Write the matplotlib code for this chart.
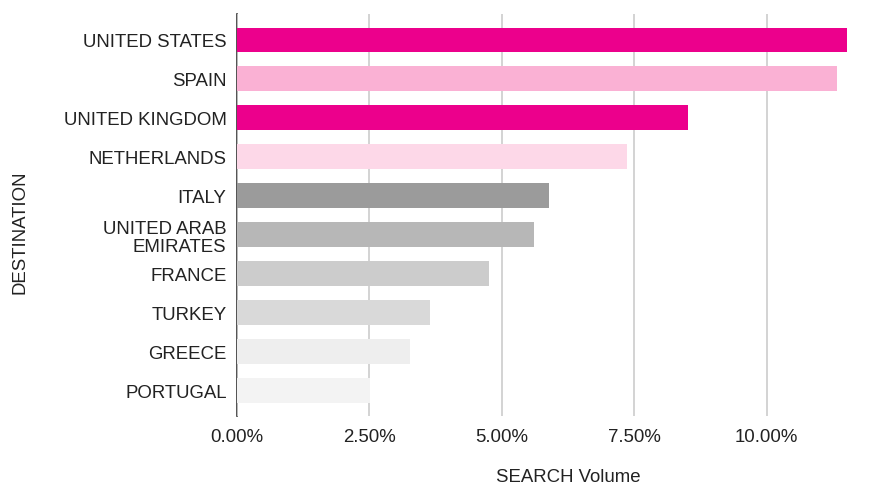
import matplotlib.pyplot as plt
from matplotlib.ticker import FuncFormatter

destinations = ["UNITED STATES", "SPAIN", "UNITED KINGDOM", "NETHERLANDS", "ITALY",
                "UNITED ARAB\nEMIRATES", "FRANCE", "TURKEY", "GREECE", "PORTUGAL"]
share = [11.52, 11.32, 8.52, 7.36, 5.90, 5.61, 4.75, 3.64, 3.26, 2.51]
colors = ["#ec008c", "#fab1d4", "#ec008c", "#fdd8e8", "#9b9b9b",
          "#b7b7b7", "#cccccc", "#d9d9d9", "#eeeeee", "#f3f3f3"]
xticks = [0, 2.5, 5, 7.5, 10]

plt.rcParams['font.family'] = ['Liberation Sans', 'DejaVu Sans']

fig = plt.figure(figsize=(8.9, 4.89), dpi=100)
ax = fig.add_axes([237 / 890, 1 - 416.7 / 489, (899 - 237) / 890, (416.7 - 15) / 489])

y = list(range(len(destinations)))
ax.barh(y, share, height=0.64, color=colors, zorder=3)

ax.set_xlim(0, 12.5)
ax.set_ylim(9.64, -0.667)
ax.set_xticks(xticks)
ax.xaxis.set_major_formatter(FuncFormatter(lambda v, p: f"{v:.2f}%"))
ax.set_yticks(y)
ax.set_yticklabels(destinations, linespacing=1.05)

ax.grid(axis='x', color='#cccccc', linewidth=1.2, zorder=0)
ax.tick_params(axis='both', length=0, labelsize=13.4, colors='#222222')
ax.tick_params(axis='y', pad=7.5)
ax.tick_params(axis='x', pad=8.5)

for s in ['top', 'right', 'bottom']:
    ax.spines[s].set_visible(False)
ax.spines['left'].set_color('#333333')
ax.spines['left'].set_linewidth(1.2)
ax.spines['left'].set_zorder(1)

ax.set_xlabel("SEARCH Volume", fontsize=13.4, color='#222222')
ax.xaxis.set_label_coords(0.5, -0.13)
ax.set_ylabel("DESTINATION", fontsize=13.4, color='#222222')
ax.yaxis.set_label_coords(-0.315, 0.46)

fig.savefig("out.png", dpi=100)
